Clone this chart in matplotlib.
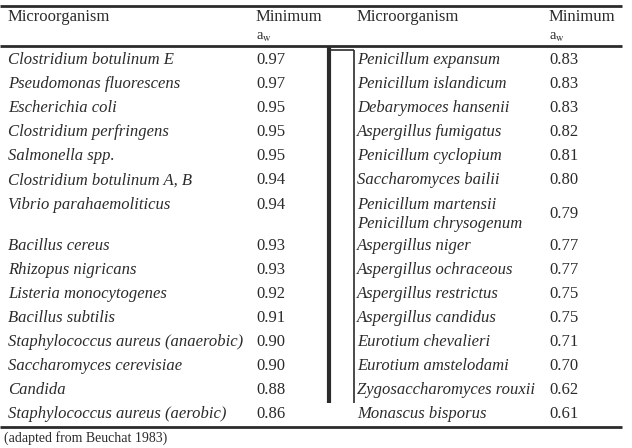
import matplotlib
matplotlib.use("Agg")
import matplotlib.pyplot as plt

# ── table contents ──
left_names = [
    "Clostridium botulinum E", "Pseudomonas fluorescens", "Escherichia coli",
    "Clostridium perfringens", "Salmonella spp.", "Clostridium botulinum A, B",
    "Vibrio parahaemoliticus", "Bacillus cereus", "Rhizopus nigricans",
    "Listeria monocytogenes", "Bacillus subtilis",
    "Staphylococcus aureus (anaerobic)", "Saccharomyces cerevisiae", "Candida",
    "Staphylococcus aureus (aerobic)",
]
left_aw = ["0.97", "0.97", "0.95", "0.95", "0.95", "0.94", "0.94", "0.93",
           "0.93", "0.92", "0.91", "0.90", "0.90", "0.88", "0.86"]

right_names = [
    "Penicillum expansum", "Penicillum islandicum", "Debarymoces hansenii",
    "Aspergillus fumigatus", "Penicillum cyclopium", "Saccharomyces bailii",
    "Penicillum martensii\nPenicillum chrysogenum", "Aspergillus niger",
    "Aspergillus ochraceous", "Aspergillus restrictus", "Aspergillus candidus",
    "Eurotium chevalieri", "Eurotium amstelodami", "Zygosaccharomyces rouxii",
    "Monascus bisporus",
]
right_aw = ["0.83", "0.83", "0.83", "0.82", "0.81", "0.80", "0.79", "0.77",
            "0.77", "0.75", "0.75", "0.71", "0.70", "0.62", "0.61"]

header_name = "Microorganism"
header_val = "Minimum"
note = "(adapted from Beuchat 1983)"

# ── layout (pixels) ──
W, H = 632, 448
ROW_H = 24.1
TALL_ROW = 6          # row with two-line entry on the right
TALL_H = 41
FIRST_Y = 60
COL_X = [8, 256, 357, 549]
INK = "#2b2b2b"
FS = 12

plt.rcParams["font.family"] = ["Liberation Serif", "DejaVu Serif"]
plt.rcParams["mathtext.fontset"] = "stix"

fig = plt.figure(figsize=(W / 100, H / 100), dpi=100)
ax = fig.add_axes([0, 0, 1, 1])
ax.set_xlim(0, W)
ax.set_ylim(H, 0)
ax.axis("off")

# row centres
ys = []
y = FIRST_Y
for i in range(len(left_names)):
    ys.append(y)
    y += TALL_H if i == TALL_ROW else ROW_H

# headers
for x0, x1 in [(COL_X[0], COL_X[1]), (COL_X[2], COL_X[3])]:
    ax.text(x0, 17, header_name, fontsize=FS, color=INK, va="center")
    ax.text(x1, 17, header_val, fontsize=FS, color=INK, va="center")
    ax.text(x1, 37, r"a$_{\mathrm{w}}$", fontsize=10.5, color=INK, va="center")

# body
for i, yy in enumerate(ys):
    ax.text(COL_X[0], yy, left_names[i], fontsize=FS, style="italic",
            color=INK, va="center")
    ax.text(COL_X[1], yy, left_aw[i], fontsize=FS, color=INK, va="center")
    if i == TALL_ROW:
        lines = right_names[i].split("\n")
        ax.text(COL_X[2], yy, lines[0], fontsize=FS, style="italic",
                color=INK, va="center")
        ax.text(COL_X[2], yy + 19, lines[1], fontsize=FS, style="italic",
                color=INK, va="center")
        ax.text(COL_X[3], yy + 9.5, right_aw[i], fontsize=FS, color=INK,
                va="center")
    else:
        ax.text(COL_X[2], yy, right_names[i], fontsize=FS, style="italic",
                color=INK, va="center")
        ax.text(COL_X[3], yy, right_aw[i], fontsize=FS, color=INK, va="center")

# rules
ax.plot([0, 622], [6, 6], color=INK, lw=2.0, solid_capstyle="butt")
ax.plot([0, 622], [46, 46], color=INK, lw=2.0, solid_capstyle="butt")
ax.plot([0, 622], [427.5, 427.5], color=INK, lw=2.0, solid_capstyle="butt")

# middle divider
ax.plot([329, 329], [47, 403], color=INK, lw=3.0, solid_capstyle="butt")
ax.plot([327.5, 354], [50, 50], color=INK, lw=1.2, solid_capstyle="butt")
ax.plot([353.8, 353.8], [50, 403], color=INK, lw=1.2, solid_capstyle="butt")

ax.text(4, 438, note, fontsize=10, color=INK, va="center")

fig.savefig("out.png", dpi=100, facecolor="white")
